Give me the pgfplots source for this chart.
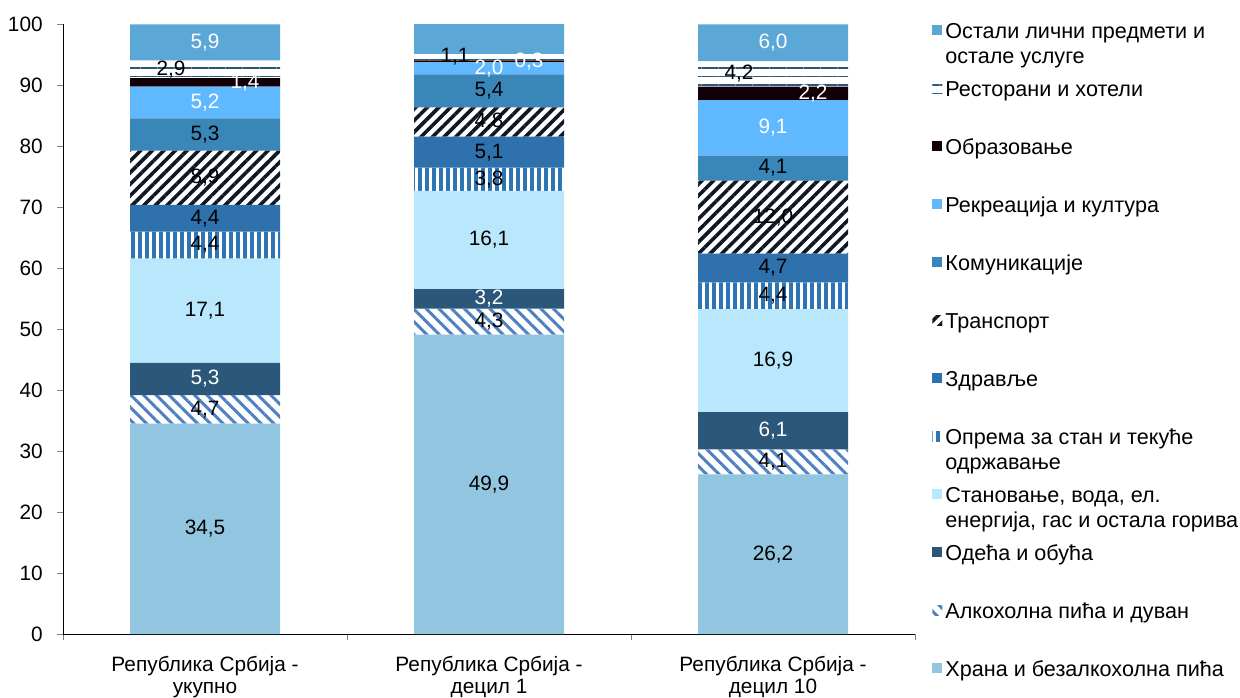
\documentclass[border=0pt]{standalone}
\usepackage{fontspec}
\setmainfont{Liberation Sans}
\usepackage{pgfplots}
\usepackage{pgfplotstable}
\pgfplotsset{compat=1.18}
\usetikzlibrary{patterns.meta}

\definecolor{cfood}{RGB}{146,198,224}
\definecolor{calc}{RGB}{79,129,193}
\definecolor{ccloth}{RGB}{42,87,122}
\definecolor{chouse}{RGB}{185,232,252}
\definecolor{cequip}{RGB}{46,117,182}
\definecolor{chealth}{RGB}{46,113,173}
\definecolor{ctrans}{RGB}{15,22,36}
\definecolor{ccomm}{RGB}{57,135,184}
\definecolor{crec}{RGB}{96,184,255}
\definecolor{cedu}{RGB}{18,0,6}
\definecolor{cother}{RGB}{91,168,214}

% x: 0 = ukupno, 1 = decil 1, 2 = decil 10 ; v = share, l = label
\pgfplotstableread{
x v l
0 34.5 34,5
1 49.1 49,9
2 26.2 26,2
}\food
\pgfplotstableread{
x v l
0 4.7 4,7
1 4.3 4,3
2 4.1 4,1
}\alc
\pgfplotstableread{
x v l
0 5.3 5,3
1 3.2 3,2
2 6.1 6,1
}\cloth
\pgfplotstableread{
x v l
0 17.1 17,1
1 16.1 16,1
2 16.9 16,9
}\house
\pgfplotstableread{
x v l
0 4.4 4,4
1 3.8 3,8
2 4.4 4,4
}\equip
\pgfplotstableread{
x v l
0 4.4 4,4
1 5.1 5,1
2 4.7 4,7
}\health
\pgfplotstableread{
x v l
0 8.9 8,9
1 4.8 4,8
2 12.0 12,0
}\trans
\pgfplotstableread{
x v l
0 5.3 5,3
1 5.4 5,4
2 4.1 4,1
}\comm
\pgfplotstableread{
x v l
0 5.2 5,2
1 2.0 2,0
2 9.1 9,1
}\rec
\pgfplotstableread{
x v l
0 1.4 1,4
1 0.3 0,3
2 2.2 2,2
}\edu
\pgfplotstableread{
x v l
0 2.9 2,9
1 1.1 1,1
2 4.2 4,2
}\rest
\pgfplotstableread{
x v l
0 5.9 5,9
1 5.0 5,0
2 6.0 6,0
}\other

\newcommand{\lent}[1]{\begin{tabular}[t]{@{}l@{}}#1\end{tabular}}

\pgfplotsset{
  seg/.style={
    nodes near coords={\pgfplotspointmeta},
    point meta=explicit symbolic,
    every node near coord/.append style={anchor=center, #1},
  },
  sq legend/.style={legend image code/.code={\path[##1,draw=none] (0pt,1.5pt) rectangle (5pt,6.5pt);}},
}

\begin{document}
\fontsize{10.4}{12.5}\selectfont
\begin{tikzpicture}
\useasboundingbox (-31.5pt,-31.5pt) rectangle (588.5pt,317pt);
\begin{axis}[
  ybar stacked,
  bar width=75pt,
  scale only axis,
  width=426pt, height=304.75pt,
  xmin=-0.5, xmax=2.5,
  ymin=0, ymax=100,
  ytick={0,10,...,100},
  xtick={-0.5,0.5,1.5,2.5},
  xticklabels={},
  extra x ticks={0,1,2},
  extra x tick labels={{Република Србија -\\укупно},{Република Србија -\\децил 1},{Република Србија -\\децил 10}},
  extra x tick style={major tick length=0pt},
  xticklabel style={align=center, font=\fontsize{10.4}{11.2}\selectfont, yshift=-7.5pt},
  axis x line*=bottom, axis y line*=left,
  axis line style={-},
  tick align=outside,
  major tick length=3pt,
  yticklabel style={xshift=-3.5pt},
  /pgf/number format/assume math mode=true,
  legend style={at={(1,1)}, anchor=north west, xshift=8.5pt, yshift=7.75pt,
    draw=none, fill=none, inner sep=0pt, row sep=0pt,
    font=\fontsize{10.8}{12.5}\selectfont,
    nodes={inner ysep=0pt, inner xsep=1.5pt, text height=14.5pt, text depth=14.5pt}},
  legend cell align=left,
  reverse legend,
  every axis plot/.append style={sq legend, draw=none},
]
\addplot[fill=cfood, seg=black] table[x=x, y=v, meta=l] {\food};
\addlegendentry{\lent{Храна и безалкохолна пића}}
\addplot[pattern={Lines[angle=-45,distance=4.5pt,line width=1.5pt]}, pattern color=calc, seg=black] table[x=x, y=v, meta=l] {\alc};
\addlegendentry{\lent{Алкохолна пића и дуван}}
\addplot[fill=ccloth, seg=white] table[x=x, y=v, meta=l] {\cloth};
\addlegendentry{\lent{Одећа и обућа}}
\addplot[fill=chouse, seg=black] table[x=x, y=v, meta=l] {\house};
\addlegendentry{\lent{Становање, вода, ел.\\енергија, гас и остала горива}}
\addplot[pattern={Lines[angle=90,distance=3.5pt,line width=1.7pt]}, pattern color=cequip, seg=black] table[x=x, y=v, meta=l] {\equip};
\addlegendentry{\lent{Опрема за стан и текуће\\одржавање}}
\addplot[fill=chealth, seg=black] table[x=x, y=v, meta=l] {\health};
\addlegendentry{\lent{Здравље}}
\addplot[pattern={Lines[angle=45,distance=4.1pt,line width=1.8pt]}, pattern color=ctrans, seg=black] table[x=x, y=v, meta=l] {\trans};
\addlegendentry{\lent{Транспорт}}
\addplot[fill=ccomm, seg=black] table[x=x, y=v, meta=l] {\comm};
\addlegendentry{\lent{Комуникације}}
\addplot[fill=crec, seg=white] table[x=x, y=v, meta=l] {\rec};
\addlegendentry{\lent{Рекреација и култура}}
\addplot[fill=cedu, seg={white,xshift=20pt}] table[x=x, y=v, meta=l] {\edu};
\addlegendentry{\lent{Образовање}}
\addplot[pattern={Lines[angle=0,distance=4.25pt,line width=0.8pt]}, pattern color=ccloth, seg={black,xshift=-17pt}] table[x=x, y=v, meta=l] {\rest};
\addlegendentry{\lent{Ресторани и хотели}}
\addplot[fill=cother, seg=white] table[x=x, y=v, meta=l] {\other};
\addlegendentry{\lent{Остали лични предмети и\\остале услуге}}
\end{axis}
\end{tikzpicture}
\end{document}
